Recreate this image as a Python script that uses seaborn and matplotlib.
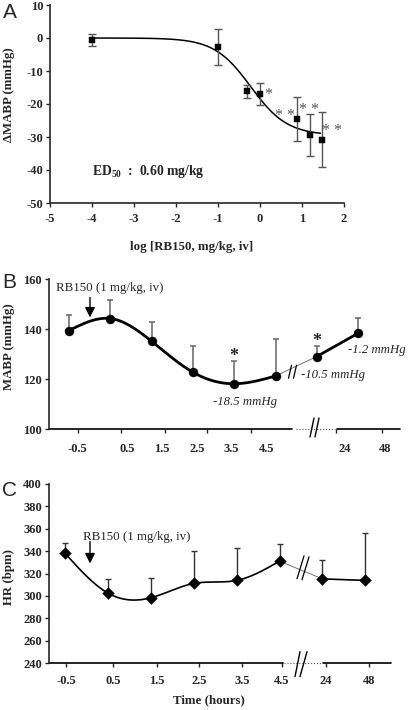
import numpy as np
import pandas as pd
import matplotlib
matplotlib.use("Agg")
import matplotlib.pyplot as plt
import seaborn as sns

# ---------------- data ----------------
A_logdose = [-4, -1, -0.3, 0, 0.88, 1.18, 1.48]
A_mean = [-0.6, -2.7, -16.2, -16.9, -24.5, -29.4, -30.8]
A_sem = [1.7, 5.5, 1.9, 3.3, 6.6, 6.3, 8.4]
A_fit_top = 0.0
A_fit_bottom = -29.5
A_fit_logED50 = -0.22
A_fit_hill = 1.0
A_stars = ["*", "* *", "* *", "* *"]

time_labels = ["-0.5", "0.5", "1.5", "2.5", "3.5", "4.5", "24", "48"]
B_mean = [139.4, 144.2, 135.1, 122.7, 118.1, 121.2, 129.0, 138.3]
B_err = [6.0, 7.4, 7.9, 10.6, 9.0, 14.9, 4.2, 6.1]
B_changes = ["-18.5 mmHg", "-10.5 mmHg", "-1.2 mmHg"]

C_mean = [338.1, 302.5, 298.3, 311.1, 313.8, 331.0, 315.2, 313.8]
C_err = [9.6, 12.5, 18.1, 29.4, 29.1, 15.5, 16.7, 42.2]

# ---------------- style ----------------
sns.set_style("ticks")
plt.rcParams["font.family"] = ["Liberation Serif", "DejaVu Serif"]
plt.rcParams["mathtext.fontset"] = "custom"
plt.rcParams["mathtext.rm"] = "Liberation Serif:bold"
plt.rcParams["mathtext.bf"] = "Liberation Serif:bold"
plt.rcParams["axes.linewidth"] = 1.2
plt.rcParams["xtick.major.width"] = 1.0
plt.rcParams["ytick.major.width"] = 1.0
plt.rcParams["xtick.major.size"] = 3
plt.rcParams["ytick.major.size"] = 3

W, H = 408, 710
fig = plt.figure(figsize=(W / 100, H / 100), dpi=100)


def rect(l, t, r, b):
    return [l / W, 1 - b / H, (r - l) / W, (b - t) / H]


def natural_spline(x, y, xs):
    x = np.asarray(x, float)
    y = np.asarray(y, float)
    n = len(x)
    h = np.diff(x)
    A = np.zeros((n, n))
    rhs = np.zeros(n)
    A[0, 0] = A[-1, -1] = 1
    for i in range(1, n - 1):
        A[i, i - 1] = h[i - 1]
        A[i, i] = 2 * (h[i - 1] + h[i])
        A[i, i + 1] = h[i]
        rhs[i] = 3 * ((y[i + 1] - y[i]) / h[i] - (y[i] - y[i - 1]) / h[i - 1])
    c = np.linalg.solve(A, rhs)
    out = np.empty_like(xs)
    for k, xv in enumerate(xs):
        i = min(max(np.searchsorted(x, xv) - 1, 0), n - 2)
        dx = xv - x[i]
        b = (y[i + 1] - y[i]) / h[i] - h[i] * (2 * c[i] + c[i + 1]) / 3
        d = (c[i + 1] - c[i]) / (3 * h[i])
        out[k] = y[i] + b * dx + c[i] * dx ** 2 + d * dx ** 3
    return out


tick_font = dict(fontsize=9, fontweight="bold")
label_font = dict(fontsize=9.3, fontweight="bold")
letter_font = dict(fontsize=15, family=["Liberation Sans", "DejaVu Sans"])

# ================= Panel A =================
axA = fig.add_axes(rect(50, 5, 344, 203))
xs = np.linspace(-4, 1.44, 300)
fit = A_fit_bottom + (A_fit_top - A_fit_bottom) / (1 + 10 ** ((xs - A_fit_logED50) * A_fit_hill))
sns.lineplot(x=xs, y=fit, ax=axA, color="black", lw=1.1, sort=False, estimator=None)
axA.errorbar(A_logdose, A_mean, yerr=A_sem, fmt="none", ecolor="#555555",
             elinewidth=1.0, capsize=2.8, capthick=1.0, zorder=3)
sns.scatterplot(x=A_logdose, y=A_mean, ax=axA, marker="s", s=22, color="black",
                edgecolor="black", linewidth=0.3, zorder=4)
star_pos = [(0.2, -17.3), (0.6, -23.6), (1.17, -21.9), (1.71, -28.1)]
for (sx, sy), st in zip(star_pos, A_stars):
    axA.text(sx, sy, st, ha="center", va="center", fontsize=11.5, color="#555555")
axA.text(-4.0, -40.6, r"ED$_{50}$  :  0.60 mg/kg", ha="left", va="center",
         fontsize=9.8, fontweight="bold")
axA.set_xlim(-5, 2)
axA.set_ylim(-50, 10)
axA.set_xticks(range(-5, 3))
axA.set_yticks(range(-50, 11, 10))
axA.set_xticklabels([str(v) for v in range(-5, 3)], **tick_font)
axA.set_yticklabels([str(v) for v in range(-50, 11, 10)], **tick_font)
axA.tick_params(axis="x", pad=4)
axA.tick_params(axis="y", pad=2)
axA.set_xlabel("")
axA.set_ylabel("")
sns.despine(ax=axA)
fig.text(192 / W, 1 - 247 / H, "log [RB150, mg/kg, iv]", ha="center", va="center", **label_font)
fig.text(9 / W, 1 - 95 / H, "\u0394MABP (mmHg)", ha="center", va="center", rotation=90, **label_font)
fig.text(3 / W, 1 - 13 / H, "A", ha="left", va="center", **letter_font)

# ================= Panel B =================
x0B, uB = 69.0, 41.3
def bx(px):
    return (px - x0B) / uB

axB = fig.add_axes(rect(49, 279, 400, 429))
B_x = np.arange(len(B_mean))
xsB = np.linspace(0, 5, 300)
sns.lineplot(x=xsB, y=natural_spline(B_x[:6], B_mean[:6], xsB), ax=axB, color="black",
             lw=2.0, sort=False, estimator=None)
sns.lineplot(x=B_x[5:7], y=B_mean[5:7], ax=axB, color="#777777", lw=0.7,
             sort=False, estimator=None)
sns.lineplot(x=B_x[6:8], y=B_mean[6:8], ax=axB, color="black", lw=2.0,
             sort=False, estimator=None)
axB.errorbar(B_x, B_mean, yerr=[np.zeros(len(B_err)), B_err], fmt="none", ecolor="#666666",
             elinewidth=1.1, capsize=2.3, capthick=1.1, zorder=3)
sns.scatterplot(x=B_x, y=B_mean, ax=axB, marker="o", s=42, color="black",
                edgecolor="black", linewidth=0.3, zorder=4)
for px in (290, 295):
    axB.plot([bx(px - 1.5), bx(px + 1.5)], [120.3, 125.5], color="black", lw=0.9)
axB.text(4, 129.0, "*", ha="center", va="center", fontsize=13, fontweight="bold")
axB.text(6, 135.0, "*", ha="center", va="center", fontsize=13, fontweight="bold")
axB.text(bx(245), 110.9, B_changes[0], ha="center", va="center", fontsize=9.2, style="italic")
axB.text(bx(301), 121.7, B_changes[1], ha="left", va="center", fontsize=9.2, style="italic")
axB.text(bx(348), 131.7, B_changes[2], ha="left", va="center", fontsize=9.2, style="italic")
axB.text(bx(56), 156.4, "RB150 (1 mg/kg, iv)", ha="left", va="center", fontsize=9.3)
axB.annotate("", xy=(bx(90), 144.6), xytext=(bx(90), 152.6),
             arrowprops=dict(arrowstyle="-|>,head_length=0.6,head_width=0.3",
                             color="black", lw=1.0, shrinkA=0, shrinkB=0))
axB.set_xlim(bx(49), bx(400))
axB.set_ylim(100, 160)
axB.set_yticks([100, 120, 140, 160])
axB.set_yticklabels(["100", "120", "140", "160"], **tick_font)
label_posB = [bx(p) for p in (77, 127, 162, 197, 231, 267, 345, 385)]
tick_posB = [bx(p) for p in (78, 121, 165, 207, 251, 336, 382)]
axB.set_xticks(label_posB)
axB.set_xticklabels(time_labels, **tick_font)
axB.set_xticks(tick_posB, minor=True)
axB.tick_params(axis="x", which="major", length=0, pad=10)
axB.tick_params(axis="x", which="minor", length=3, width=1.0)
axB.tick_params(axis="y", pad=2)
sns.despine(ax=axB)
axB.spines["bottom"].set_visible(False)
trB = axB.get_xaxis_transform()
axB.plot([bx(49), bx(292)], [0, 0], transform=trB, color="black", lw=1.2, clip_on=False)
axB.plot([bx(296), bx(335)], [0, 0], transform=trB, color="#555555", lw=0.8, ls=":", clip_on=False)
axB.plot([bx(337), bx(400)], [0, 0], transform=trB, color="black", lw=1.2, clip_on=False)
for px in (312, 317):
    axB.plot([bx(px - 2), bx(px + 2)], [100 - 8 / 2.505, 100 + 11 / 2.505], color="black",
             lw=1.0, clip_on=False)
axB.set_xlabel("")
axB.set_ylabel("")
fig.text(9 / W, 1 - 347 / H, "MABP (mmHg)", ha="center", va="center", rotation=90, **label_font)
fig.text(2 / W, 1 - 283 / H, "B", ha="left", va="center", **letter_font)

# ================= Panel C =================
x0C, uC = 65.0, 42.9
def cx(px):
    return (px - x0C) / uC

axC = fig.add_axes(rect(49, 484, 391, 663))
C_x = np.arange(len(C_mean))
xsC = np.linspace(0, 5, 300)
sns.lineplot(x=xsC, y=natural_spline(C_x[:6], C_mean[:6], xsC), ax=axC, color="black",
             lw=1.2, sort=False, estimator=None)
sns.lineplot(x=C_x[5:7], y=C_mean[5:7], ax=axC, color="#777777", lw=0.7,
             sort=False, estimator=None)
sns.lineplot(x=C_x[6:8], y=C_mean[6:8], ax=axC, color="black", lw=1.2,
             sort=False, estimator=None)
axC.errorbar(C_x, C_mean, yerr=[np.zeros(len(C_err)), C_err], fmt="none", ecolor="#333333",
             elinewidth=1.0, capsize=2.3, capthick=1.0, zorder=3)
sns.scatterplot(x=C_x, y=C_mean, ax=axC, marker="D", s=36, color="black",
                edgecolor="black", linewidth=0.3, zorder=4)
for p0, p1 in (((297, 579), (304, 556)), ((302, 580), (309, 557))):
    axC.plot([cx(p0[0]), cx(p1[0])], [400 - (p0[1] - 484) / 1.121, 400 - (p1[1] - 484) / 1.121],
             color="black", lw=0.9)
axC.text(cx(83), 352.7, "RB150 (1 mg/kg, iv)", ha="left", va="center", fontsize=9.3)
axC.annotate("", xy=(cx(90), 329.0), xytext=(cx(90), 348.5),
             arrowprops=dict(arrowstyle="-|>,head_length=0.6,head_width=0.3",
                             color="black", lw=1.0, shrinkA=0, shrinkB=0))
axC.set_xlim(cx(49), cx(391))
axC.set_ylim(240, 400)
axC.set_yticks(range(240, 401, 20))
axC.set_yticklabels([str(v) for v in range(240, 401, 20)], **tick_font)
label_posC = [cx(p) for p in (66, 113, 157, 199, 242, 282, 326, 369)]
axC.set_xticks(label_posC)
axC.set_xticklabels(time_labels, **tick_font)
axC.tick_params(axis="x", length=3, pad=6)
axC.tick_params(axis="y", pad=2)
sns.despine(ax=axC)
axC.spines["bottom"].set_visible(False)
trC = axC.get_xaxis_transform()
axC.plot([cx(49), cx(283)], [0, 0], transform=trC, color="black", lw=1.2, clip_on=False)
axC.plot([cx(284), cx(322)], [0, 0], transform=trC, color="#555555", lw=0.8, ls=":", clip_on=False)
axC.plot([cx(323), cx(391)], [0, 0], transform=trC, color="black", lw=1.2, clip_on=False)
for a, b in (((295, 677), (300, 652)), ((300, 677), (307, 652))):
    axC.plot([cx(a[0]), cx(b[0])], [400 - (a[1] - 484) / 1.121, 400 - (b[1] - 484) / 1.121],
             color="black", lw=1.0, clip_on=False)
axC.set_xlabel("")
axC.set_ylabel("")
fig.text(209 / W, 1 - 700 / H, "Time (hours)", ha="center", va="center", **label_font)
fig.text(9 / W, 1 - 577 / H, "HR (bpm)", ha="center", va="center", rotation=90, **label_font)
fig.text(2 / W, 1 - 490 / H, "C", ha="left", va="center", **letter_font)

fig.savefig("out.png", dpi=100)
